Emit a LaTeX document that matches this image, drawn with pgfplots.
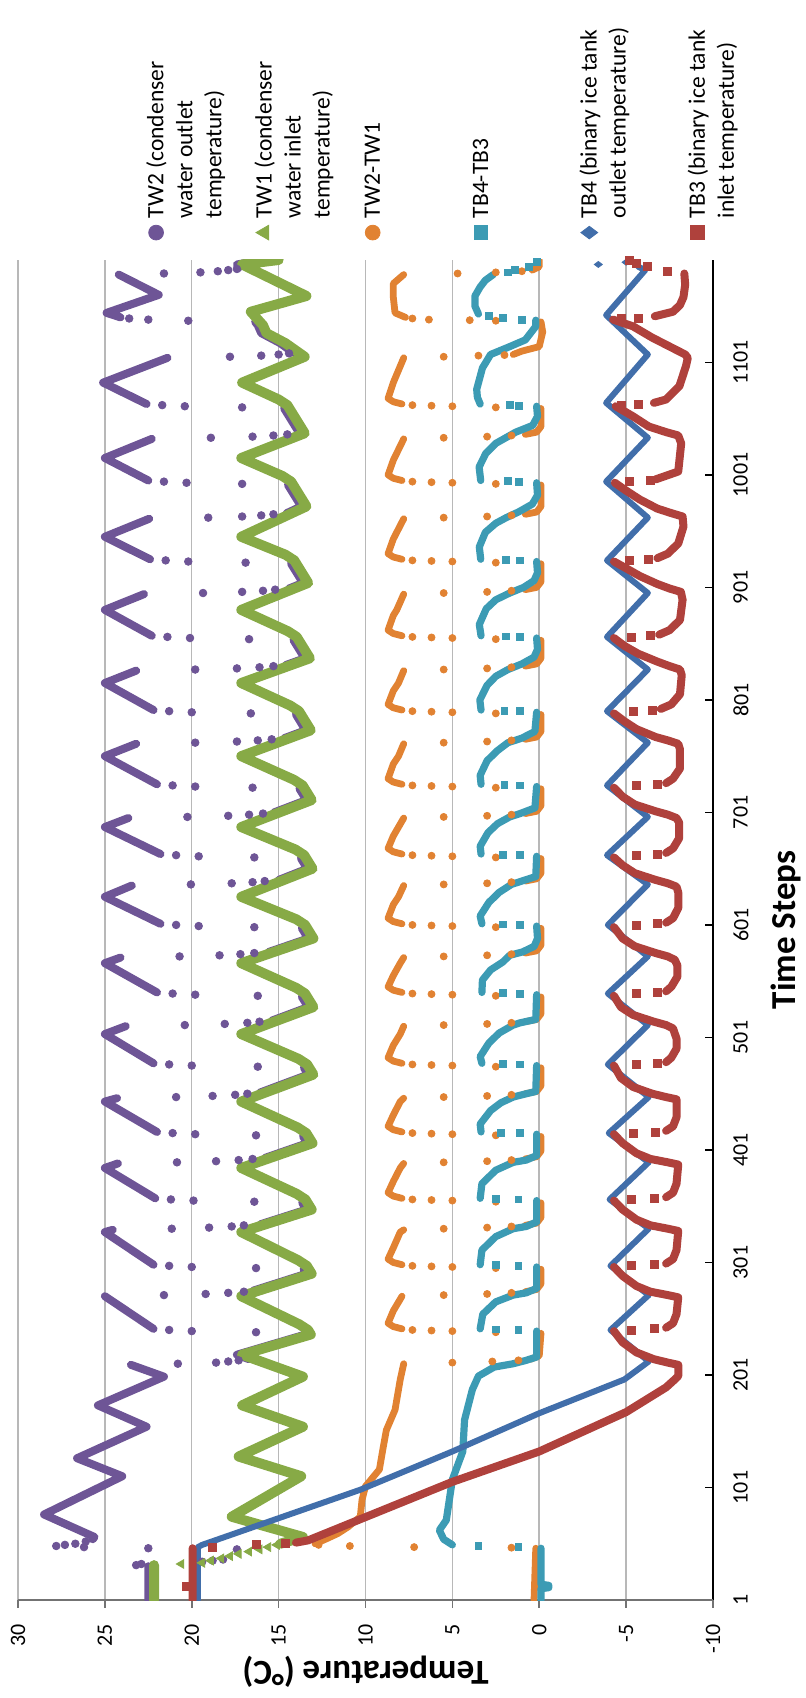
\documentclass[border=0pt]{standalone}
\usepackage{fontspec}
\setmainfont{Carlito}
\usepackage{pgfplots}
\pgfplotsset{compat=1.18}
\definecolor{cTWtwo}{HTML}{6E5596}
\definecolor{cTWone}{HTML}{87AA46}
\definecolor{cDW}{HTML}{E18232}
\definecolor{cDB}{HTML}{3C9BB4}
\definecolor{cTBfour}{HTML}{416EAA}
\definecolor{cTBthree}{HTML}{AF413C}
\newcommand\tickfont{\fontsize{11}{13}\selectfont}
\newcommand\legfont{\fontsize{11.75}{14.5}\selectfont}
\newcommand\titfont{\fontsize{17.5}{21}\selectfont\bfseries}
\pgfplotsset{
  dense/.style={forget plot, no markers, line join=round, line cap=round, unbounded coords=jump},
  sparse/.style={forget plot, only marks},
}
\begin{document}
\rotatebox{90}{%
\begin{tikzpicture}
\useasboundingbox (-49pt,-46pt) rectangle (800pt,356.5pt);
\begin{axis}[
  at={(0pt,0pt)}, anchor=south west,
  scale only axis, width=670pt, height=347.5pt,
  xmin=1, xmax=1192, ymin=-10, ymax=30,
  xtick={1,101,201,301,401,501,601,701,801,901,1001,1101},
  ytick={-10,-5,0,5,10,15,20,25,30},
  axis lines*=left,
  x axis line style={black, line width=0.8pt},
  y axis line style={black!55, line width=0.8pt},
  xtick align=inside, ytick align=outside,
  major tick length=4pt,
  xtick style={black, line width=0.8pt},
  ytick style={black!55, line width=0.8pt},
  ymajorgrids, grid style={black!28, line width=0.75pt},
  /pgf/number format/assume math mode=true,
  /pgf/number format/1000 sep={},
  scaled x ticks=false,
  tick label style={font=\tickfont},
  xticklabel style={inner sep=0pt, anchor=north, yshift=-10pt},
  yticklabel style={inner sep=0pt, anchor=east, xshift=-8pt},
  xlabel={Time Steps}, ylabel={Temperature (°C)},
  xlabel style={font=\titfont, at={(axis description cs:0.5,0)}, anchor=center, yshift=-36.5pt},
  ylabel style={font=\titfont, at={(axis description cs:0,0.5)}, anchor=center, yshift=36pt},
  legend style={at={(axis description cs:1,1)}, anchor=north west, xshift=10pt, yshift=-62.5pt,
    draw=none, fill=none, inner sep=0pt, outer sep=0pt, row sep=42.5pt, column sep=3.5pt,
    cells={anchor=base west}, nodes={inner sep=0pt}, font=\legfont},
  legend image code/.code={\draw[#1] plot coordinates {(0pt,3.6pt)};},
]
% ---------------- TW2 (purple)
\addplot[dense, color=cTWtwo, line width=4pt] coordinates {
(1,22.5)(31,22.5)(0,nan)
(55,25.7)(57,25.6)(77,28.5)(111,24.0)(127,26.6)(155,22.6)(174,25.4)(199.5,21.6)(210,23.5)(0,nan)
(215,16.7)(219,17.4)(237,13.45)(238,13.5)(0,nan)
(242,22.2)(271,25.0)(0,nan)
(276,16.45)(291,13.4)(295,13.56)(0,nan)
(299,22.2)(328,25.0)(330,24.55)(0,nan)
(335,16.03)(348,13.4)(354,13.64)(0,nan)
(358,22.1)(385,25.0)(389,24.25)(0,nan)
(394,15.77)(407,13.35)(413,13.59)(0,nan)
(417,22.0)(444,25.0)(447,24.3)(0,nan)
(452,16.07)(468,13.3)(474,13.54)(0,nan)
(478,22.2)(504,25.0)(511,23.8)(0,nan)
(516,15.38)(528,13.3)(537,13.66)(0,nan)
(541,22.0)(567,25.0)(572,24.1)(0,nan)
(577,15.56)(589,13.3)(598,13.66)(0,nan)
(602,21.8)(626,25.0)(636,23.45)(0,nan)
(641,14.99)(651,13.35)(660,13.71)(0,nan)
(664,21.8)(688,25.0)(696,23.65)(0,nan)
(701,15.26)(712,13.4)(722,13.8)(0,nan)
(726,22.0)(751,25.0)(762,23.2)(0,nan)
(767,14.67)(774,13.45)(788,14.0)(0,nan)
(792,22.2)(816,25.0)(827,23.2)(0,nan)
(832,14.58)(838,13.5)(854,14.14)(0,nan)
(858,22.3)(881,25.0)(895,22.75)(0,nan)
(900,14.4)(905,13.6)(922,14.28)(0,nan)
(926,22.4)(946,25.0)(962,22.45)(0,nan)
(967,14.53)(973,13.7)(992,14.46)(0,nan)
(996,22.5)(1016,25.0)(1033,22.3)(0,nan)
(1038,13.8)(1060,14.68)(0,nan)
(1064,22.6)(1083,25.1)(1105,21.4)(0,nan)
(1110,14.2)(1118,14.9)(1127,16.0)(1134,16.2)(1137,16.35)(0,nan)
(1141,24.1)(1145,24.9)(1161,21.9)(1179,24.2)(0,nan)
(1185,17.3)(1188,17.4)(1192,15.9)
};
\addplot[sparse, color=cTWtwo, mark=*, mark size=1.9pt] coordinates {
(32,23.2)(33,22.9)(35,19.4)(36,18.8)(37,18.2)(46,17.4)(47,22.5)(48,26.2)(49,27.8)(50,27.3)(51,26.7)(53,26.1)
(211,20.8)(212,18.6)(213,17.9)(214,17.3)
(239,16.3)(240,20.0)(241,21.3)
(272,21.6)(273,19.2)(274,17.9)(275,17.0)
(296,16.3)(297,20.0)(298,21.3)
(331,21.15)(332,19.0)(333,17.7)(334,17.0)
(355,16.4)(356,19.9)(357,21.2)
(390,20.85)(391,18.6)(392,17.3)(393,16.5)
(414,16.3)(415,19.8)(416,21.1)
(448,20.9)(449,18.8)(450,17.5)(451,16.8)
(475,16.2)(476,20.0)(477,21.3)
(512,20.4)(513,18.1)(514,16.8)(515,16.1)
(538,16.2)(539,19.8)(540,21.1)
(573,20.7)(574,18.4)(575,17.2)(576,16.4)
(599,16.4)(600,19.6)(601,20.9)
(637,20.05)(638,17.7)(639,16.5)(640,15.8)
(661,16.4)(662,19.6)(663,20.9)
(697,20.25)(698,17.9)(699,16.7)(700,15.9)
(723,16.5)(724,19.8)(725,21.1)
(763,19.8)(764,17.4)(765,16.2)(766,15.4)
(789,16.6)(790,20.0)(791,21.3)
(828,19.8)(829,17.4)(830,16.1)(831,15.3)
(855,16.7)(856,20.1)(857,21.4)
(896,19.35)(897,17.1)(898,15.9)(899,15.2)
(923,16.9)(924,20.2)(925,21.5)
(963,19.05)(964,17.1)(965,16.0)(966,15.3)
(993,17.1)(994,20.3)(995,21.6)
(1034,18.9)(1035,16.5)(1036,15.3)(1037,14.5)
(1061,17.1)(1062,20.4)(1063,21.7)
(1106,17.8)(1107,16.0)(1108,15.0)(1109,14.4)
(1138,20.2)(1139,22.5)(1140,23.6)
(1180,21.6)(1181,19.5)(1182,18.5)(1183,17.9)(1184,17.4)
};
% ---------------- TW1 (green)
\addplot[dense, color=cTWone, line width=5pt] coordinates {
(1,22.17)(32,22.17)(0,nan)
(51,14.9)(57,13.6)(75,17.7)(111,13.7)(128.5,17.3)(155,13.6)(174,17.1)(199.5,13.6)(219,17.1)
(237,13.15)(241,13.31)(246,13.81)(271,17.15)(291,13.1)(298,13.38)(303,13.88)(328,17.15)
(348,13.1)(357,13.46)(362,13.96)(385,17.15)(407,13.05)(416,13.41)(421,13.91)(444,17.15)
(468,13.0)(477,13.36)(482,13.86)(504,17.15)(528,13.0)(540,13.48)(545,13.98)(567,17.15)
(589,13.0)(601,13.48)(606,13.98)(626,17.15)(651,13.05)(663,13.53)(668,14.03)(688,17.15)
(712,13.1)(725,13.62)(730,14.12)(751,17.15)(774,13.15)(791,13.83)(796,14.33)(816,17.15)
(838,13.2)(857,13.96)(862,14.46)(881,17.15)(905,13.3)(925,14.1)(930,14.6)(946,17.15)
(973,13.4)(995,14.28)(1000,14.78)(1016,17.15)(1038,13.5)(1063,14.5)(1068,15.0)(1083,17.1)
(1106,13.5)(1118,14.6)(1127,15.7)(1134,15.9)(1146,16.6)(1160,13.4)(1188,17.1)(1192,15.0)
};
\addplot[sparse, color=cTWone, mark=triangle*, mark size=2.5pt] coordinates {
(33,20.6)(34,19.4)(36,18.9)(38,18.3)(40,17.8)(42,17.3)(44,16.7)(46,16.1)(48,15.6)(50,15.1)
};
% ---------------- TW2-TW1 (orange)
\addplot[dense, color=cDW, line width=3.4pt] coordinates {
(1,0.3)(47,0.2)(0,nan)
(51,12.9)(55,12.3)(60,11.6)(66,11.0)(75,10.3)(90,10.2)(102,10.0)(117,9.2)(135,9.0)(152,8.8)(170,8.3)(197,8.0)(211,7.8)(0,nan)
(215,0.5)(218,0.0)(238,-0.1)(0,nan)
(242,7.9)(244,8.4)(247,8.7)(258,8.4)(271,7.9)(0,nan)
(275,0.8)(277,0.15)(282,-0.1)(295,-0.1)(0,nan)
(299,7.9)(301,8.4)(304,8.7)(314,8.4)(328,8.0)(330,7.8)(0,nan)
(334,0.8)(336,0.15)(341,-0.1)(354,-0.1)(0,nan)
(358,7.9)(360,8.4)(363,8.7)(373,8.4)(385,8.0)(389,7.8)(0,nan)
(393,0.8)(395,0.15)(400,-0.1)(413,-0.1)(0,nan)
(417,7.9)(419,8.4)(422,8.7)(432,8.4)(444,8.0)(447,7.8)(0,nan)
(451,0.8)(453,0.15)(458,-0.1)(474,-0.1)(0,nan)
(478,7.9)(480,8.4)(483,8.7)(494,8.4)(504,8.0)(511,7.8)(0,nan)
(515,0.8)(517,0.15)(522,-0.1)(537,-0.1)(0,nan)
(541,7.9)(543,8.4)(546,8.7)(556,8.4)(567,8.0)(572,7.8)(0,nan)
(576,0.8)(578,0.15)(583,-0.1)(598,-0.1)(0,nan)
(602,7.9)(604,8.4)(607,8.7)(619,8.4)(626,8.1)(636,7.8)(0,nan)
(640,0.8)(642,0.15)(647,-0.1)(660,-0.1)(0,nan)
(664,7.9)(666,8.4)(669,8.7)(680,8.4)(688,8.1)(696,7.8)(0,nan)
(700,0.8)(702,0.15)(707,-0.1)(722,-0.1)(0,nan)
(726,7.9)(728,8.4)(731,8.7)(744,8.4)(751,8.1)(762,7.8)(0,nan)
(766,0.8)(768,0.15)(773,-0.1)(788,-0.1)(0,nan)
(792,7.9)(794,8.4)(797,8.7)(809,8.4)(816,8.1)(827,7.8)(0,nan)
(831,0.8)(833,0.15)(838,-0.1)(854,-0.1)(0,nan)
(858,7.9)(860,8.4)(863,8.7)(876,8.4)(881,8.2)(895,7.8)(0,nan)
(899,0.8)(901,0.15)(906,-0.1)(922,-0.1)(0,nan)
(926,7.9)(928,8.4)(931,8.7)(944,8.4)(962,7.8)(0,nan)
(966,0.8)(968,0.15)(973,-0.1)(992,-0.1)(0,nan)
(996,7.9)(998,8.4)(1001,8.7)(1014,8.4)(1033,7.8)(0,nan)
(1037,0.8)(1039,0.15)(1044,-0.1)(1060,-0.1)(0,nan)
(1064,7.9)(1066,8.4)(1069,8.7)(1083,8.4)(1105,7.8)(0,nan)
(1108,1.5)(1111,1.0)(1115,0.0)(1128,-0.2)(1137,-0.1)(0,nan)
(1141,7.7)(1145,8.3)(1159,8.4)(1171,8.4)(1179,7.8)(0,nan)
(1183,0.4)(1186,0.0)(1192,0.0)
};
\addplot[sparse, color=cDW, mark=*, mark size=1.75pt] coordinates {
(47.5,1.6)(48,7.2)(49,10.9)(50,12.7)
(212,5.0)(213,2.7)(214,1.2)
(239,2.5)(240,5.0)(240.5,6.2)(241,7.3)(272,5.5)(273,3.0)(274,1.6)
(296,2.5)(297,5.0)(297.5,6.2)(298,7.3)(331,5.5)(332,3.0)(333,1.6)
(355,2.5)(356,5.0)(356.5,6.2)(357,7.3)(390,5.5)(391,3.0)(392,1.6)
(414,2.5)(415,5.0)(415.5,6.2)(416,7.3)(448,5.5)(449,3.0)(450,1.6)
(475,2.5)(476,5.0)(476.5,6.2)(477,7.3)(512,5.5)(513,3.0)(514,1.6)
(538,2.5)(539,5.0)(539.5,6.2)(540,7.3)(573,5.5)(574,3.0)(575,1.6)
(599,2.5)(600,5.0)(600.5,6.2)(601,7.3)(637,5.5)(638,3.0)(639,1.6)
(661,2.5)(662,5.0)(662.5,6.2)(663,7.3)(697,5.5)(698,3.0)(699,1.6)
(723,2.5)(724,5.0)(724.5,6.2)(725,7.3)(763,5.5)(764,3.0)(765,1.6)
(789,2.5)(790,5.0)(790.5,6.2)(791,7.3)(828,5.5)(829,3.0)(830,1.6)
(855,2.5)(856,5.0)(856.5,6.2)(857,7.3)(896,5.5)(897,3.0)(898,1.6)
(923,2.5)(924,5.0)(924.5,6.2)(925,7.3)(963,5.5)(964,3.0)(965,1.6)
(993,2.5)(994,5.0)(994.5,6.2)(995,7.3)(1034,5.5)(1035,3.0)(1036,1.6)
(1061,2.5)(1062,5.0)(1062.5,6.2)(1063,7.3)(1106,5.5)(1107,3.5)(1107.5,2.0)
(1138,2.5)(1138.5,4.0)(1139,6.35)(1140,7.3)(1180,4.7)(1181,2.5)(1182,1.0)
};
% ---------------- TB4-TB3 (cyan)
\addplot[dense, color=cDB, line width=3.6pt] coordinates {
(1,-0.1)(11,-0.1)(12,-0.55)(14,-0.55)(15,-0.1)(47,-0.1)(0,nan)
(50,5.0)(55,5.5)(63,5.75)(72,5.35)(108,5.0)(133,4.4)(161,4.3)(188,3.85)(200,3.5)(208,2.6)(211,1.5)(214,0.75)(217,0.15)(240,0.15)(0,nan)
(242,3.4)(255,3.25)(266,2.5)(272,1.5)(274,0.75)(278,0.15)(297,0.15)(0,nan)
(299,3.4)(312,3.3)(324,2.5)(331,1.5)(333,0.75)(337,0.15)(356,0.15)(0,nan)
(358,3.4)(371,3.3)(383,2.5)(390,1.5)(392,0.75)(396,0.15)(415,0.15)(0,nan)
(417,3.35)(424,3.4)(436,2.8)(443,2.2)(448,1.5)(450,1.0)(453,0.2)(476,0.15)(0,nan)
(478,3.3)(484,3.4)(496,2.9)(505,2.3)(512,1.5)(514,1.1)(517,0.2)(539,0.15)(0,nan)
(541,3.3)(552,3.27)(561,2.8)(568,2.1)(574,1.7)(577,0.96)(582,0.29)(589,0.1)(600,0.15)(0,nan)
(602,3.3)(609,3.4)(621,2.9)(630,2.3)(637,1.6)(640,1.0)(644,0.2)(662,0.15)(0,nan)
(664,3.35)(671,3.4)(683,2.95)(691,2.4)(697,1.7)(700,1.1)(705,0.25)(724,0.15)(0,nan)
(726,3.35)(734,3.4)(747,3.0)(756,2.4)(763,1.8)(767,1.0)(773,0.25)(790,0.15)(0,nan)
(792,3.35)(801,3.42)(814,3.0)(822,2.5)(828,1.8)(833,1.0)(839,0.3)(846,0.1)(856,0.15)(0,nan)
(858,3.35)(868,3.45)(882,3.05)(890,2.5)(896,1.7)(901,0.9)(907,0.3)(914,0.1)(924,0.15)(0,nan)
(926,3.37)(937,3.45)(950,3.1)(958,2.5)(963,1.9)(968,1.2)(975,0.4)(983,0.1)(994,0.15)(0,nan)
(996,3.37)(1008,3.46)(1020,3.08)(1029,2.5)(1039,1.35)(1045,0.38)(1053,0.1)(1062,0.15)(0,nan)
(1064,3.4)(1070,3.56)(1077,3.6)(1096,3.27)(1108,2.8)(1115,1.7)(1121,0.8)(1133,0.2)(1138.5,0.2)(0,nan)
(1144,3.5)(1151,3.7)(1160,3.7)(1168,3.4)(1174,3.1)(1179,2.65)
};
\addplot[sparse, color=cDB, mark=square*, mark size=1.7pt] coordinates {
(48,1.2)(49,3.5)
(241,1.2)(241.5,2.5)(298,1.2)(298.5,2.5)(357,1.2)(357.5,2.5)(416,1.1)(416.5,2.2)
(477,1.1)(477.5,2.1)(540,1.1)(540.5,2.1)(601,1.1)(601.5,2.1)(663,1.1)(663.5,2.1)
(725,1.1)(725.5,2.0)(791,1.1)(791.5,2.0)(857,1.1)(857.5,1.9)(925,1.1)(925.5,1.9)
(995,1.15)(995.5,1.8)(1062.5,1.15)(1063,1.7)(1139,1.0)(1140.5,2.1)(1142,2.9)
(1181,1.8)(1183,1.4)(1186,0.6)(1190,0.15)
};
% ---------------- TB4 (blue)
\addplot[dense, color=cTBfour, line width=3pt] coordinates {
(1,19.65)(48,19.65)(50,19.4)(99,10.3)(133,5.0)(167,0)(197,-4.9)(213,-6.3)
(241,-4.1)(272,-6.3)(298,-4.1)(331,-6.3)(357,-4.05)(390,-6.3)(416,-4.0)(448,-6.3)
(477,-3.95)(512,-6.25)(540,-3.95)(573,-6.25)(601,-3.95)(637,-6.25)(663,-3.9)(697,-6.25)
(725,-3.9)(763,-6.25)(791,-3.9)(828,-6.25)(857,-3.9)(896,-6.25)(925,-3.9)(963,-6.25)
(995,-3.85)(1034,-6.25)(1065,-3.85)(1108,-6.25)(1143,-3.85)(1183,-6.1)(1186,-5.7)
};
\addplot[sparse, color=cTBfour, mark=diamond*, mark size=2pt] coordinates {
(1188,-3.4)(1190,-5.0)
};
% ---------------- TB3 (red)
\addplot[dense, color=cTBthree, line width=4pt] coordinates {
(1,19.95)(47,19.95)(0,nan)
(52,14.0)(54,13.3)(106,5.0)(133,0)(168,-5.0)(190,-7.3)(197,-7.8)(200,-8.0)(210,-8.0)(212,-7.4)(215,-6.6)(221,-5.6)(230,-4.8)(240,-4.3)(0,nan)
(243,-7.3)(247,-7.7)(255,-7.9)(270,-8.0)(272,-7.4)(275,-6.4)(280,-5.6)(289,-4.8)(297,-4.3)(0,nan)
(300,-7.3)(304,-7.7)(312,-7.9)(329,-8.0)(331,-7.4)(334,-6.4)(339,-5.6)(348,-4.8)(356,-4.3)(0,nan)
(359,-7.3)(363,-7.7)(371,-7.9)(388,-8.0)(390,-7.4)(393,-6.4)(398,-5.6)(407,-4.8)(415,-4.3)(0,nan)
(418,-7.3)(422,-7.7)(430,-7.9)(446,-7.9)(448,-7.3)(451,-6.5)(457,-5.4)(465,-4.7)(476,-4.3)(0,nan)
(479,-7.3)(483,-7.6)(491,-7.9)(500,-7.9)(509,-7.7)(512,-7.3)(515,-6.6)(521,-5.4)(528,-4.7)(538,-4.3)(0,nan)
(542,-7.3)(546,-7.6)(555,-7.95)(565,-7.95)(570,-7.8)(573,-7.4)(576,-6.7)(582,-5.5)(589,-4.8)(599,-4.3)(0,nan)
(603,-7.3)(607,-7.7)(616,-8.0)(630,-8.0)(635,-7.9)(638,-7.4)(641,-6.7)(647,-5.5)(654,-4.8)(661,-4.3)(0,nan)
(665,-7.3)(669,-7.7)(678,-8.05)(692,-8.05)(696,-7.9)(699,-7.4)(702,-6.7)(708,-5.5)(715,-4.8)(723,-4.3)(0,nan)
(727,-7.3)(731,-7.7)(740,-8.1)(757,-8.1)(762,-8.0)(765,-7.4)(768,-6.7)(775,-5.6)(782,-4.9)(789,-4.3)(0,nan)
(793,-7.0)(797,-7.6)(806,-8.1)(823,-8.2)(828,-8.1)(831,-7.5)(835,-6.8)(842,-5.7)(849,-4.9)(856,-4.3)(0,nan)
(859,-6.9)(863,-7.5)(872,-8.1)(890,-8.25)(897,-8.15)(900,-7.5)(904,-6.8)(911,-5.8)(918,-5.0)(924,-4.3)(0,nan)
(927,-6.8)(931,-7.4)(940,-8.0)(955,-8.3)(964,-8.25)(967,-7.6)(971,-6.8)(979,-5.8)(987,-5.0)(994,-4.35)(0,nan)
(997,-6.7)(1004,-8.0)(1029,-8.17)(1036,-8.0)(1039,-7.3)(1044,-6.3)(1053,-5.4)(1062,-4.4)(0,nan)
(1065,-6.6)(1068,-7.3)(1080,-8.07)(1098,-8.45)(1105,-8.55)(1108,-8.4)(1123,-6.5)(1133,-5.4)(1139,-4.25)(0,nan)
(1142,-6.65)(1146,-7.7)(1152,-8.1)(1159,-8.3)(1170,-8.4)(1180,-8.35)
};
\addplot[sparse, color=cTBthree, mark=square*, mark size=2pt] coordinates {
(13,20.3)(48,18.8)(50,16.3)(51,14.6)
(241,-5.3)(242,-6.6)(298,-5.3)(299,-6.6)(357,-5.3)(358,-6.6)(416,-5.4)(417,-6.7)
(477,-5.6)(478,-6.8)(540,-5.6)(541,-6.8)(601,-5.6)(602,-6.8)(663,-5.6)(664,-6.8)
(725,-5.6)(726,-6.8)(791,-5.4)(792,-6.5)(857,-5.3)(858,-6.4)(925,-5.2)(926,-6.3)
(995,-5.2)(996,-6.4)(1063,-4.7)(1063.5,-5.7)(1140,-4.7)(1140.5,-5.7)
(1182,-7.4)(1186,-6.2)(1189,-5.6)(1192,-5.2)
};
% ---------------- legend
\addlegendimage{only marks, mark=*, mark size=3.7pt, color=cTWtwo}
\addlegendentry{\parbox[t]{105pt}{\raggedright\strut TW2 (condenser\newline water outlet\newline temperature)}}
\addlegendimage{only marks, mark=triangle*, mark size=4.2pt, color=cTWone}
\addlegendentry{\parbox[t]{105pt}{\raggedright\strut TW1 (condenser\newline water inlet\newline temperature)}}
\addlegendimage{only marks, mark=*, mark size=3.7pt, color=cDW}
\addlegendentry{\parbox[t]{105pt}{\raggedright\strut TW2-TW1}}
\addlegendimage{only marks, mark=square*, mark size=3.4pt, color=cDB}
\addlegendentry{\parbox[t]{105pt}{\raggedright\strut TB4-TB3}}
\addlegendimage{only marks, mark=diamond*, mark size=4.2pt, color=cTBfour}
\addlegendentry{\parbox[t]{105pt}{\raggedright\strut TB4 (binary ice tank\newline outlet temperature)}}
\addlegendimage{only marks, mark=square*, mark size=3.4pt, color=cTBthree}
\addlegendentry{\parbox[t]{105pt}{\raggedright\strut TB3 (binary ice tank\newline inlet temperature)}}
\end{axis}
\end{tikzpicture}}
\end{document}
